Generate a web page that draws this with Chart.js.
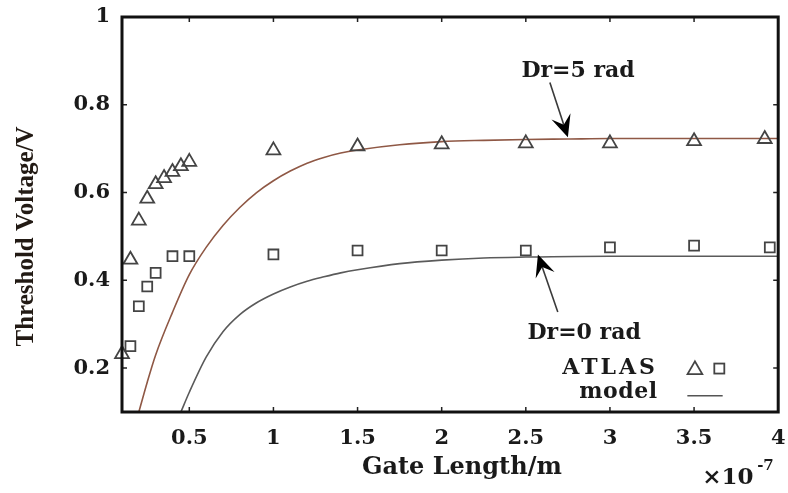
<!DOCTYPE html>
<html><head><meta charset="utf-8">
<script src="https://cdn.jsdelivr.net/npm/chart.js@4.4.1/dist/chart.umd.min.js"></script>
<style>html,body{margin:0;padding:0;background:#fff;}</style>
</head><body>
<canvas id="c" width="788" height="493"></canvas>
<script>
// ---- axis ticks ----
const xTicks = [0.5, 1, 1.5, 2, 2.5, 3, 3.5, 4];
const xTickLabels = ['0.5', '1', '1.5', '2', '2.5', '3', '3.5', '4'];
const yTicks = [0.2, 0.4, 0.6, 0.8, 1];
const yTickLabels = ['0.2', '0.4', '0.6', '0.8', '1'];

// ---- ATLAS simulation points (gate length in 1e-7 m, threshold voltage in V) ----
const atlasDr5X = [0.1, 0.15, 0.2, 0.25, 0.3, 0.35, 0.4, 0.45, 0.5, 1, 1.5, 2, 2.5, 3, 3.5, 3.92];
const atlasDr5Y = [0.232, 0.447, 0.536, 0.586, 0.619, 0.633, 0.647, 0.66, 0.67, 0.696, 0.705, 0.71, 0.712, 0.712, 0.717, 0.722];
const atlasDr0X = [0.15, 0.2, 0.25, 0.3, 0.4, 0.5, 1, 1.5, 2, 2.5, 3, 3.5, 3.95];
const atlasDr0Y = [0.25, 0.341, 0.386, 0.417, 0.455, 0.455, 0.459, 0.468, 0.468, 0.468, 0.475, 0.479, 0.475];

// ---- model curves ----
const modelDr5X = [0.2, 0.25, 0.3, 0.4, 0.5, 0.6, 0.7, 0.8, 0.9, 1.0, 1.1, 1.2, 1.3, 1.4, 1.5, 1.75, 2, 2.25, 2.5, 2.75, 3, 3.5, 4];
const modelDr5Y = [0.1, 0.168, 0.23, 0.327, 0.413, 0.475, 0.525, 0.566, 0.6, 0.627, 0.649, 0.667, 0.68, 0.69, 0.697, 0.709, 0.716, 0.719, 0.721, 0.722, 0.723, 0.723, 0.723];
const modelDr0X = [0.45, 0.5, 0.6, 0.7, 0.8, 0.9, 1.0, 1.1, 1.2, 1.3, 1.4, 1.5, 1.75, 2, 2.25, 2.5, 3, 4];
const modelDr0Y = [0.1, 0.145, 0.225, 0.283, 0.322, 0.349, 0.369, 0.385, 0.398, 0.408, 0.417, 0.424, 0.438, 0.446, 0.451, 0.453, 0.455, 0.455];

// ---- texts ----
const xTitle = 'Gate Length/m';
const yTitle = 'Threshold Voltage/V';
const labelDr5 = 'Dr=5 rad';
const labelDr0 = 'Dr=0 rad';
const legendAtlas = 'ATLAS';
const legendModel = 'model';

const pts = (xs, ys) => xs.map((v, i) => ({x: v, y: ys[i]}));
const TXT = '#1a1a1a';
const tickFont = {family: '"DejaVu Serif"', weight: 'bold', size: 21};

function drawTri(ctx, x, y, r) {
  ctx.beginPath();
  ctx.moveTo(x, y - r);
  ctx.lineTo(x - r * Math.sin(Math.PI / 3), y + r / 2);
  ctx.lineTo(x + r * Math.sin(Math.PI / 3), y + r / 2);
  ctx.closePath();
  ctx.stroke();
}
function drawArrow(ctx, x0, y0, x1, y1) {
  const dx = x1 - x0, dy = y1 - y0, len = Math.hypot(dx, dy);
  const ux = dx / len, uy = dy / len, nx = -uy, ny = ux;
  const L = 22, W = 10;
  ctx.strokeStyle = '#3a3a3a'; ctx.lineWidth = 1.6;
  ctx.beginPath(); ctx.moveTo(x0, y0); ctx.lineTo(x1 - ux * L * 0.6, y1 - uy * L * 0.6); ctx.stroke();
  ctx.fillStyle = '#000';
  ctx.beginPath();
  ctx.moveTo(x1, y1);
  ctx.lineTo(x1 - ux * L + nx * W, y1 - uy * L + ny * W);
  ctx.lineTo(x1 - ux * L * 0.6, y1 - uy * L * 0.6);
  ctx.lineTo(x1 - ux * L - nx * W, y1 - uy * L - ny * W);
  ctx.closePath(); ctx.fill();
}
function text(ctx, s, x, y, font, align, spacing) {
  ctx.save();
  ctx.font = font; ctx.fillStyle = TXT; ctx.textAlign = align; ctx.textBaseline = 'middle';
  try { ctx.letterSpacing = (spacing || 0) + 'px'; } catch (e) {}
  ctx.fillText(s, x, y);
  ctx.restore();
}

const frameAndText = {
  id: 'frameAndText',
  afterDatasetsDraw(chart) {
    const {ctx, chartArea: a, scales: {x, y}} = chart;
    ctx.save();
    // inward ticks on all four sides
    ctx.strokeStyle = '#222'; ctx.lineWidth = 1.5;
    const tl = 5;
    x.ticks.forEach(t => {
      const p = x.getPixelForValue(t.value);
      ctx.beginPath();
      ctx.moveTo(p, a.bottom); ctx.lineTo(p, a.bottom - tl);
      ctx.moveTo(p, a.top); ctx.lineTo(p, a.top + tl);
      ctx.stroke();
    });
    y.ticks.forEach(t => {
      const p = y.getPixelForValue(t.value);
      ctx.beginPath();
      ctx.moveTo(a.left, p); ctx.lineTo(a.left + tl, p);
      ctx.moveTo(a.right, p); ctx.lineTo(a.right - tl, p);
      ctx.stroke();
    });
    // frame
    ctx.strokeStyle = '#111'; ctx.lineWidth = 3;
    ctx.strokeRect(a.left, a.top, a.right - a.left, a.bottom - a.top);

    // annotations
    const bold22 = 'bold 22px "DejaVu Serif"';
    text(ctx, labelDr5, x.getPixelForValue(2.474), y.getPixelForValue(0.876), bold22, 'left', 0);
    drawArrow(ctx, x.getPixelForValue(2.643), y.getPixelForValue(0.851), x.getPixelForValue(2.75), y.getPixelForValue(0.726));
    text(ctx, labelDr0, x.getPixelForValue(2.51), y.getPixelForValue(0.279), bold22, 'left', 0);
    drawArrow(ctx, x.getPixelForValue(2.69), y.getPixelForValue(0.328), x.getPixelForValue(2.572), y.getPixelForValue(0.459));

    // legend
    text(ctx, legendAtlas, x.getPixelForValue(2.717), y.getPixelForValue(0.2), bold22, 'left', 3);
    text(ctx, legendModel, x.getPixelForValue(2.818), y.getPixelForValue(0.146), bold22, 'left', 0.5);
    ctx.strokeStyle = '#444'; ctx.lineWidth = 1.8;
    drawTri(ctx, x.getPixelForValue(3.505), y.getPixelForValue(0.196), 8.5);
    const sx = x.getPixelForValue(3.65), sy = y.getPixelForValue(0.199), h = 5;
    ctx.strokeRect(sx - h, sy - h, 2 * h, 2 * h);
    ctx.strokeStyle = '#555'; ctx.lineWidth = 1.5;
    ctx.beginPath();
    ctx.moveTo(x.getPixelForValue(3.46), y.getPixelForValue(0.137));
    ctx.lineTo(x.getPixelForValue(3.67), y.getPixelForValue(0.137));
    ctx.stroke();

    // axis titles
    text(ctx, xTitle, x.getPixelForValue(2.12), a.bottom + 56, 'bold 24px "DejaVu Serif"', 'center', 0);
    text(ctx, '\u00d710', x.getPixelForValue(3.548), a.bottom + 66, 'bold 23px "DejaVu Serif"', 'left', 0);
    text(ctx, '-7', x.getPixelForValue(3.548) + 55, a.bottom + 54, 'bold 15px "DejaVu Serif"', 'left', 0);
    ctx.save();
    ctx.translate(a.left - 95, y.getPixelForValue(0.5));
    ctx.rotate(-Math.PI / 2);
    ctx.font = 'bold 25px "Liberation Serif"'; ctx.fillStyle = '#221a14';
    ctx.textAlign = 'center'; ctx.textBaseline = 'middle';
    ctx.fillText(yTitle, 0, 0);
    ctx.restore();
    ctx.restore();
  }
};

new Chart(document.getElementById('c'), {
  type: 'scatter',
  data: {
    datasets: [
      {label: 'ATLAS Dr=5 rad', data: pts(atlasDr5X, atlasDr5Y), pointStyle: 'triangle', pointRadius: 8,
       borderColor: '#444', borderWidth: 1.8, backgroundColor: 'rgba(0,0,0,0)', showLine: false, clip: false},
      {label: 'ATLAS Dr=0 rad', data: pts(atlasDr0X, atlasDr0Y), pointStyle: 'rect', pointRadius: 7,
       borderColor: '#444', borderWidth: 1.8, backgroundColor: 'rgba(0,0,0,0)', showLine: false, clip: false},
      {label: 'model Dr=5 rad', data: pts(modelDr5X, modelDr5Y), showLine: true, borderColor: '#8f5845',
       borderWidth: 1.6, pointRadius: 0, cubicInterpolationMode: 'monotone', fill: false},
      {label: 'model Dr=0 rad', data: pts(modelDr0X, modelDr0Y), showLine: true, borderColor: '#5a5a5a',
       borderWidth: 1.6, pointRadius: 0, cubicInterpolationMode: 'monotone', fill: false}
    ]
  },
  options: {
    responsive: false, animation: false,
    layout: {padding: {top: 17, right: 9, left: 0, bottom: 0}},
    plugins: {legend: {display: false}, tooltip: {enabled: false}},
    scales: {
      x: {
        type: 'linear', min: 0.1, max: 4,
        afterBuildTicks: s => { s.ticks = xTicks.map(v => ({value: v})); },
        afterFit: s => { s.height = 81; s.paddingLeft = 0; s.paddingRight = 0; },
        grid: {display: false, drawTicks: false}, border: {display: false},
        ticks: {padding: 14, color: TXT, font: tickFont, autoSkip: false, maxRotation: 0,
                callback: (v, i) => xTickLabels[i]}
      },
      y: {
        type: 'linear', min: 0.1, max: 1,
        afterBuildTicks: s => { s.ticks = yTicks.map(v => ({value: v})); },
        afterFit: s => { s.width = 122; s.paddingTop = 0; s.paddingBottom = 0; },
        grid: {display: false, drawTicks: false}, border: {display: false},
        ticks: {padding: 12, color: TXT, font: tickFont, autoSkip: false,
                callback: (v, i) => yTickLabels[i]}
      }
    }
  },
  plugins: [frameAndText]
});
</script>
</body></html>
